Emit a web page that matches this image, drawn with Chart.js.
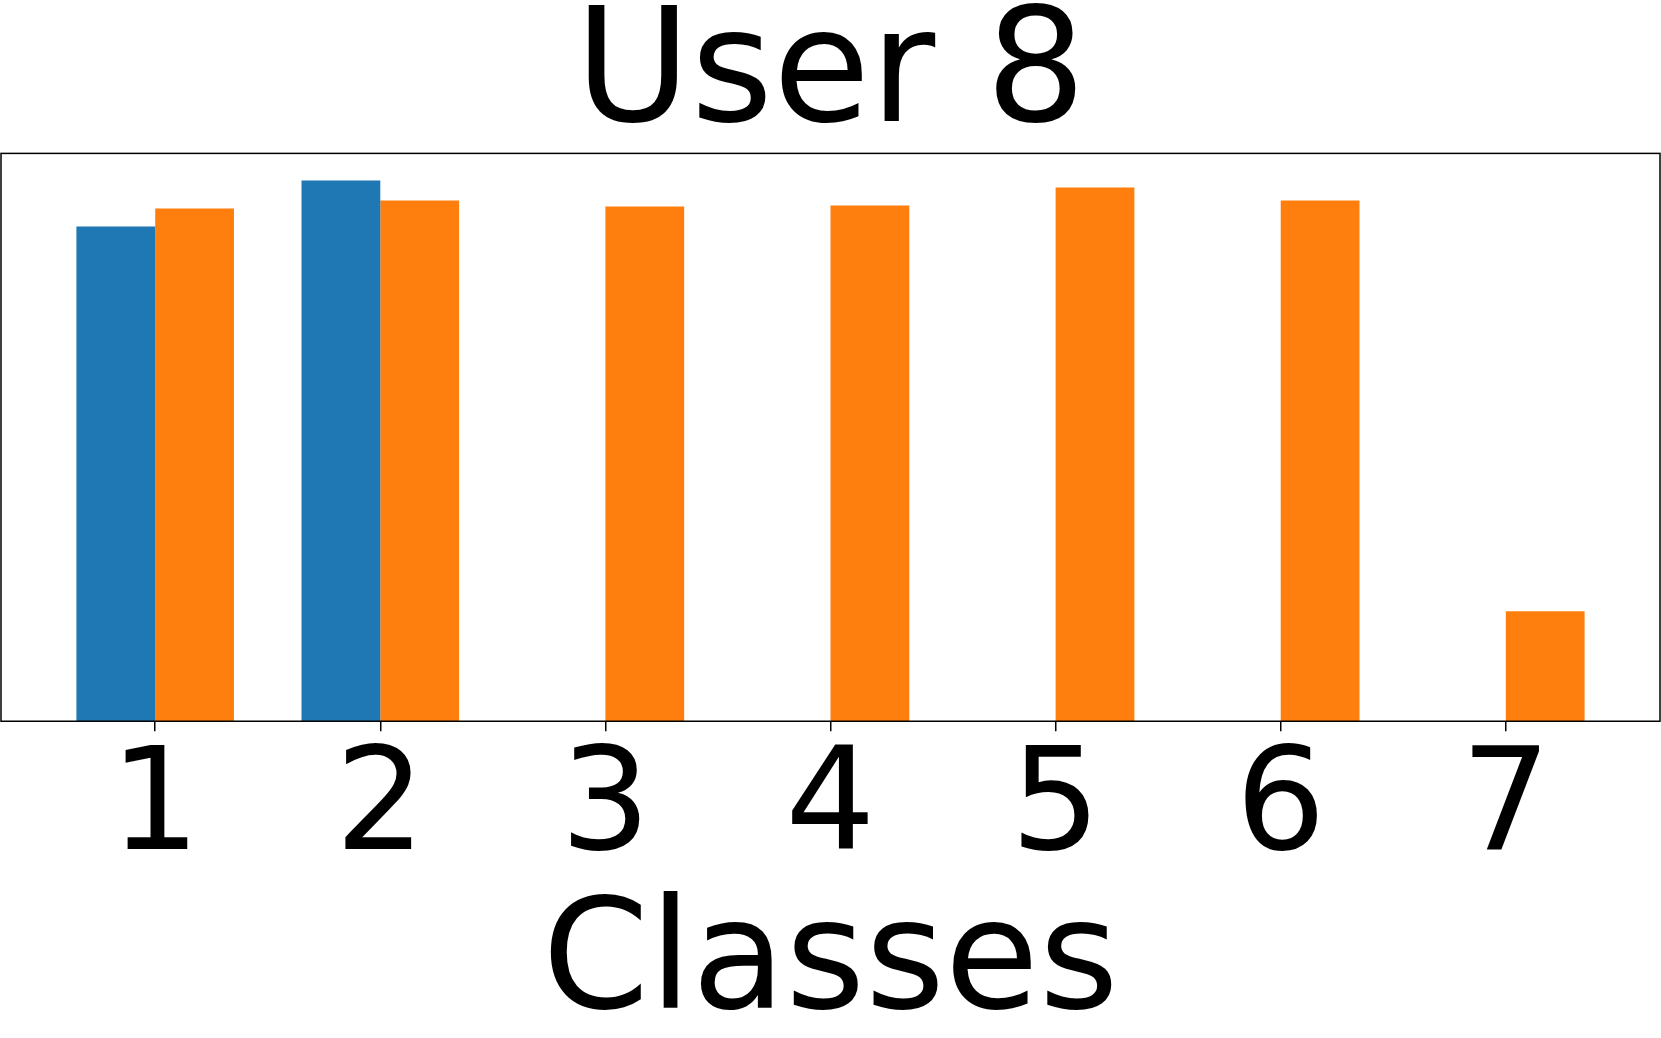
<!DOCTYPE html>
<html>
<head>
<meta charset="utf-8">
<script src="https://cdn.jsdelivr.net/npm/chart.js@4"></script>
<style>
  html,body{margin:0;padding:0;background:#fff;}
  #wrap{width:1661px;height:1038px;}
</style>
</head>
<body>
<div id="wrap"><canvas id="c"></canvas></div>
<script>
// values (relative units, no y axis shown)
const classes = [1, 2, 3, 4, 5, 6, 7];
const seriesA = [495, 541, 0, 0, 0, 0, 0];
const seriesB = [513, 521, 515, 516, 534, 521, 110];
const yMax = 568;   // tallest bar + 5% headroom

const FONT = "DejaVu Sans";
const pts = vals => classes.map((x, i) => ({x, y: vals[i]}));

// box round the plot area, like matplotlib spines
const frame = {
  id: "frame",
  afterDatasetsDraw(chart){
    const {ctx, chartArea:a} = chart;
    ctx.save(); ctx.strokeStyle = "#000"; ctx.lineWidth = 1.5;
    ctx.strokeRect(a.left, a.top, a.right - a.left, a.bottom - a.top);
    ctx.restore();
  }
};

new Chart(document.getElementById("c"), {
  type: "bar",
  data: { datasets: [
    {label: "A", data: pts(seriesA), backgroundColor: "#1f77b4", borderWidth: 0},
    {label: "B", data: pts(seriesB), backgroundColor: "#ff7f0e", borderWidth: 0}
  ]},
  options: {
    responsive: true, maintainAspectRatio: false, animation: false,
    layout: {padding: {left: 1, right: 1, top: 0, bottom: 0}},
    datasets: {bar: {categoryPercentage: 0.7, barPercentage: 1.0}},
    plugins: {
      legend: {display: false}, tooltip: {enabled: false},
      title: {display: true, text: "User 8", color: "#000",
        font: {family: FONT, size: 158, weight: "normal", lineHeight: 0.8},
        padding: {top: 17, bottom: 10}}
    },
    scales: {
      x: {
        type: "linear", min: 0.315, max: 7.685, offset: false,
        afterBuildTicks: s => { s.ticks = classes.map(v => ({value: v})); },
        grid: {display: true, drawOnChartArea: false, drawTicks: true, tickLength: 10,
               color: "#000", lineWidth: 1.5, offset: false},
        border: {display: false},
        ticks: {autoSkip: false, maxRotation: 0, padding: 10, color: "#000",
                font: {family: FONT, size: 142, lineHeight: 1},
                callback: v => String(v)},
        title: {display: true, text: "Classes", color: "#000",
                font: {family: FONT, size: 153, lineHeight: 0.918},
                padding: {top: 4.3, bottom: 0}}
      },
      y: {display: false, min: 0, max: yMax}
    }
  },
  plugins: [frame]
});
</script>
</body>
</html>
